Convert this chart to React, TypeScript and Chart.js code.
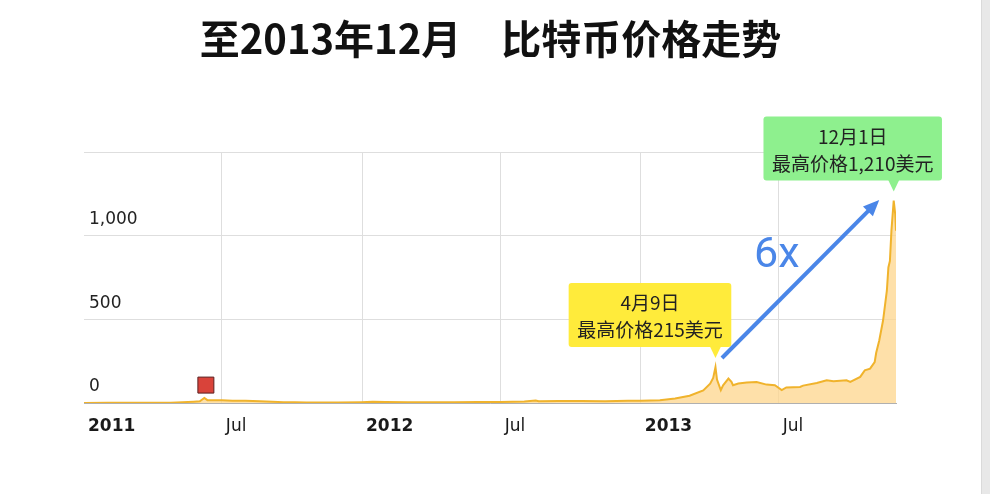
import React, { useEffect, useRef } from 'react';
import { Chart, registerables } from 'chart.js';

Chart.register(...registerables);

const titleText = '至2013年12月\u3000比特币价格走势';

const priceDates = [
  '2011-01-01', '2011-02-01', '2011-03-01', '2011-04-01', '2011-04-25', '2011-05-10', '2011-05-25',
  '2011-06-02', '2011-06-08', '2011-06-12', '2011-06-20', '2011-07-01', '2011-07-15', '2011-08-01',
  '2011-08-20', '2011-09-05', '2011-09-20', '2011-10-05', '2011-10-20', '2011-11-15', '2011-12-01',
  '2011-12-31',
  '2012-01-15', '2012-02-01', '2012-03-01', '2012-04-01', '2012-05-01', '2012-06-01', '2012-07-01',
  '2012-08-01', '2012-08-16', '2012-08-20', '2012-09-15', '2012-10-15', '2012-11-15', '2012-12-15',
  '2013-01-01', '2013-01-26', '2013-02-15', '2013-03-06', '2013-03-24', '2013-04-02', '2013-04-06',
  '2013-04-09', '2013-04-11', '2013-04-16', '2013-04-19', '2013-04-26', '2013-04-30', '2013-05-02',
  '2013-05-09', '2013-05-20', '2013-06-02', '2013-06-15', '2013-06-26', '2013-07-05', '2013-07-11',
  '2013-07-29', '2013-08-02', '2013-08-20', '2013-09-02', '2013-09-11', '2013-09-28', '2013-10-03',
  '2013-10-16', '2013-10-22', '2013-10-29', '2013-11-04', '2013-11-06', '2013-11-10', '2013-11-15',
  '2013-11-20', '2013-11-22', '2013-11-24', '2013-11-26', '2013-11-29', '2013-12-01', '2013-12-02',
];

const prices = [
  0.3, 0.9, 0.9, 0.8, 1.6, 5, 8,
  10, 29.6, 17, 17, 16, 14, 13,
  11, 8, 5, 4.8, 2.5, 2.5, 3,
  4.7,
  7, 6, 4.9, 4.9, 5, 5.3, 6.7,
  9.5, 15, 10, 11.5, 11.8, 11, 13.4,
  13.5, 17, 27, 43, 75, 115, 150,
  215, 140, 77, 106, 146, 126, 106,
  116, 122, 126, 110, 106, 77, 93,
  96, 104, 120, 136, 130, 136, 126,
  156, 195, 205, 244, 300, 374, 493,
  671, 810, 849, 1030, 1210, 1128, 1030,
];

const tickDates = ['2011-01-01', '2011-07-01', '2012-01-01', '2012-07-01', '2013-01-01', '2013-07-01'];
const tickLabels = ['2011', 'Jul', '2012', 'Jul', '2013', 'Jul'];
const yTicks = [0, 500, 1000, 1500];

const markerDates = ['2011-06-10'];
const markerValues = [107];

const noteDates = ['2013-04-09', '2013-11-29'];
const noteValues = [215, 1210];
const noteLines = [
  ['4月9日', '最高价格215美元'],
  ['12月1日', '最高价格1,210美元'],
];
const noteColors = ['#ffeb3b', '#8ef08e'];
const growthLabel = '6x';

const DAY0 = Date.UTC(2011, 0, 1);
function dayOf(s: string): number {
  const [y, m, d] = s.split('-').map(Number);
  return (Date.UTC(y, m - 1, d) - DAY0) / 86400000;
}

const BLUE = '#4a86e8';

const decorPlugin = {
  id: 'decor',
  beforeDraw(chart: any) {
    const ctx = chart.ctx;
    ctx.save();
    ctx.fillStyle = '#ffffff';
    ctx.fillRect(0, 0, chart.width, chart.height);
    ctx.fillStyle = '#111';
    ctx.font = 'bold 40px "Noto Sans CJK SC"';
    ctx.textAlign = 'center';
    ctx.textBaseline = 'middle';
    ctx.fillText(titleText, 490.5, 39);
    ctx.restore();
  },
  afterDatasetsDraw(chart: any) {
    const ctx = chart.ctx;
    const x = chart.scales.x;
    const y = chart.scales.y;
    const anchors = noteDates.map((d, i) => ({
      px: x.getPixelForValue(dayOf(d)),
      py: y.getPixelForValue(noteValues[i]),
    }));
    const boxDx = [-65.5, -41];
    ctx.save();
    ctx.font = '19px "Noto Sans CJK SC"';
    anchors.forEach((a, i) => {
      const lines = noteLines[i];
      const w = Math.max(...lines.map((l) => ctx.measureText(l).width)) + 17;
      const cx = a.px + boxDx[i];
      const bottom = a.py - 20;
      const top = bottom - 64;
      ctx.fillStyle = noteColors[i];
      ctx.beginPath();
      (ctx as any).roundRect(cx - w / 2, top, w, bottom - top, 3);
      ctx.fill();
      ctx.beginPath();
      ctx.moveTo(a.px - 5.5, bottom - 0.5);
      ctx.lineTo(a.px + 5.5, bottom - 0.5);
      ctx.lineTo(a.px, a.py - 9);
      ctx.closePath();
      ctx.fill();
      ctx.fillStyle = '#222';
      ctx.textAlign = 'center';
      ctx.textBaseline = 'middle';
      ctx.fillText(lines[0], cx, top + 20);
      ctx.fillText(lines[1], cx, top + 47);
    });

    // growth arrow
    const sx = anchors[0].px + 6.5;
    const sy = anchors[0].py - 9;
    const ex = anchors[1].px - 14.5;
    const ey = anchors[1].py - 0.5;
    const ang = Math.atan2(ey - sy, ex - sx);
    const head = 16;
    const half = 7;
    const bx = ex - head * Math.cos(ang);
    const by = ey - head * Math.sin(ang);
    ctx.strokeStyle = BLUE;
    ctx.lineWidth = 4;
    ctx.lineCap = 'butt';
    ctx.beginPath();
    ctx.moveTo(sx, sy);
    ctx.lineTo(bx + 2 * Math.cos(ang), by + 2 * Math.sin(ang));
    ctx.stroke();
    ctx.fillStyle = BLUE;
    ctx.beginPath();
    ctx.moveTo(ex, ey);
    ctx.lineTo(bx - half * Math.sin(ang), by + half * Math.cos(ang));
    ctx.lineTo(bx + half * Math.sin(ang), by - half * Math.cos(ang));
    ctx.closePath();
    ctx.fill();

    ctx.font = '43px Roboto';
    ctx.textAlign = 'left';
    ctx.textBaseline = 'middle';
    ctx.fillStyle = BLUE;
    ctx.fillText(growthLabel, sx + 32, sy - 102);
    ctx.restore();
  },
};

export default function App() {
  const ref = useRef<HTMLCanvasElement>(null);
  useEffect(() => {
    if (!ref.current) return;
    const chart = new Chart(ref.current, {
      type: 'line',
      data: {
        datasets: [
          {
            data: markerDates.map((d, i) => ({ x: dayOf(d), y: markerValues[i] })),
            showLine: false,
            pointStyle: 'rect',
            pointRadius: 11.3,
            pointHoverRadius: 11.3,
            pointBackgroundColor: '#d9433a',
            pointBorderColor: '#5b2020',
            pointBorderWidth: 1,
            order: 0,
          } as any,
          {
            data: priceDates.map((d, i) => ({ x: dayOf(d), y: prices[i] })),
            borderColor: '#f0b32c',
            borderWidth: 2,
            backgroundColor: 'rgba(253, 214, 140, 0.75)',
            fill: 'origin',
            pointRadius: 0,
            tension: 0,
            order: 1,
          } as any,
        ],
      },
      options: {
        responsive: false,
        animation: false,
        devicePixelRatio: 1,
        layout: { padding: { left: 84, right: 85, top: 152, bottom: 31 } },
        plugins: {
          legend: { display: false },
          tooltip: { enabled: false },
          title: { display: false },
        },
        scales: {
          x: {
            type: 'linear',
            min: 0,
            max: dayOf('2013-12-02'),
            afterBuildTicks: (s: any) => {
              s.ticks = tickDates.map((d) => ({ value: dayOf(d) }));
            },
            afterFit: (s: any) => {
              s.height = 60;
            },
            ticks: {
              autoSkip: false,
              maxRotation: 0,
              align: 'start',
              labelOffset: 4,
              padding: 13,
              color: '#1a1a1a',
              callback: (_v: any, i: number) => tickLabels[i],
              font: (c: any) => ({
                family: 'DejaVu Sans',
                size: 17,
                weight: c.index % 2 === 0 ? 'bold' : 'normal',
              }),
            },
            grid: {
              color: (c: any) => (c.tick && c.tick.value === 0 ? 'rgba(0,0,0,0)' : '#dedede'),
              drawTicks: false,
              tickLength: 0,
            },
            border: { display: true, color: '#b0b0b0' },
          } as any,
          y: {
            type: 'linear',
            min: 0,
            max: 1500,
            afterBuildTicks: (s: any) => {
              s.ticks = yTicks.map((v) => ({ value: v }));
            },
            afterFit: (s: any) => {
              s.width = 0;
            },
            ticks: {
              mirror: true,
              padding: 5,
              labelOffset: -16,
              color: '#222',
              font: { family: 'DejaVu Sans', size: 17 },
              callback: (v: any) => (v === 1500 ? '' : Number(v).toLocaleString('en-US')),
            },
            grid: { color: '#dedede', drawTicks: false, tickLength: 0 },
            border: { display: false },
          } as any,
        },
      },
      plugins: [decorPlugin],
    });
    return () => chart.destroy();
  }, []);

  return (
    <div
      style={{
        position: 'fixed',
        left: 0,
        top: 0,
        width: 990,
        height: 494,
        background: '#fff',
        overflow: 'hidden',
      }}
    >
      <canvas
        ref={ref}
        width={981}
        height={494}
        style={{ position: 'absolute', left: 0, top: 0, width: 981, height: 494 }}
      />
      <div
        style={{
          position: 'absolute',
          left: 981,
          top: 0,
          width: 9,
          height: 494,
          background: '#e8e8e8',
          borderLeft: '1px solid #dadada',
          boxSizing: 'border-box',
        }}
      />
    </div>
  );
}
